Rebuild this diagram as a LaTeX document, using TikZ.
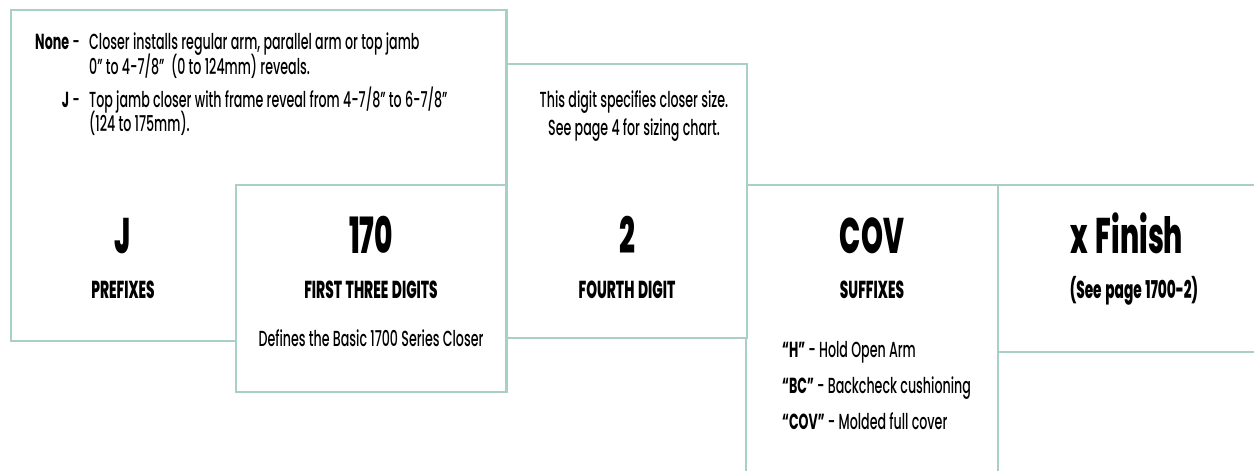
\documentclass[tikz,border=0pt]{standalone}
\usepackage{fontspec}
\setmainfont{Poppins}[UprightFont=* Medium, BoldFont=* Bold, FakeStretch=0.58]
\newfontfamily\heavyfont{Poppins}[UprightFont=* ExtraBold, BoldFont=* ExtraBold, FakeStretch=0.56, WordSpace=1.4]
\definecolor{framecol}{HTML}{A8D0C7}
\begin{document}
\begin{tikzpicture}[x=1pt,y=-1pt,
  box/.style={draw=framecol,line width=2.6pt,fill=white},
  bignum/.style={font=\heavyfont\fontsize{50}{50}\selectfont, anchor=base, inner sep=0pt},
  head/.style={font=\heavyfont\fontsize{24.5}{24.5}\selectfont, anchor=base, inner sep=0pt},
  body/.style={font=\fontsize{21.8}{21.8}\selectfont, inner sep=0pt},
]
\useasboundingbox (0,0) rectangle (1254,471);
\clip (0,0) rectangle (1254,471);
% boxes
\draw[box] (11,10) rectangle (506.5,341);
\draw[box] (236,185) rectangle (506.5,392);
\draw[box] (746,185) rectangle (998,490);
\draw[box] (506.5,64) rectangle (747,338);
\draw[box] (998,185) rectangle (1270,352);
% prefixes text
\node[body, anchor=base east] (l1) at (80,49) {{\bfseries None}~-};
\node[body, anchor=base west] (d1) at (89,49) {Closer installs regular arm, parallel arm or top jamb};
\node[body, anchor=base west] (d2) at (89,74) {0" to 4-7/8"~~(0 to 124mm) reveals.};
\node[body, anchor=base east] (l2) at (80,107) {{\bfseries J}~-};
\node[body, anchor=base west] (d3) at (89,107) {Top jamb closer with frame reveal from 4-7/8" to 6-7/8"};
\node[body, anchor=base west] (d4) at (89,131) {(124 to 175mm).};
% big row
\node[bignum] (pj) at (123,253) {J};
\node[bignum] (pf) at (371,253) {170};
\node[bignum] (p2) at (627,253) {2};
\node[bignum] (pc) at (872,253) {COV};
\node[bignum] (px) at (1127,253) {x Finish};
% heading row
\node[head] (hp) at (123,298) {PREFIXES};
\node[head] (hf) at (371,298) {FIRST THREE DIGITS};
\node[head] (h4) at (627,298) {FOURTH DIGIT};
\node[head] (hs) at (872,298) {SUFFIXES};
\node[head] (hx) at (1134,298) {(See page 1700-2)};
% other texts
\node[body, anchor=base] (df) at (371,346) {Defines the Basic 1700 Series Closer};
\node[body, anchor=base] (t1) at (634,107) {This digit specifies closer size.};
\node[body, anchor=base] (t2) at (634,135) {See page 4 for sizing chart.};
\node[body, anchor=base west] (s1) at (782,357) {{\bfseries “H”} - Hold Open Arm};
\node[body, anchor=base west] (s2) at (782,393) {{\bfseries “BC”} - Backcheck cushioning};
\node[body, anchor=base west] (s3) at (782,429) {{\bfseries “COV”} - Molded full cover};
\end{tikzpicture}
\end{document}
